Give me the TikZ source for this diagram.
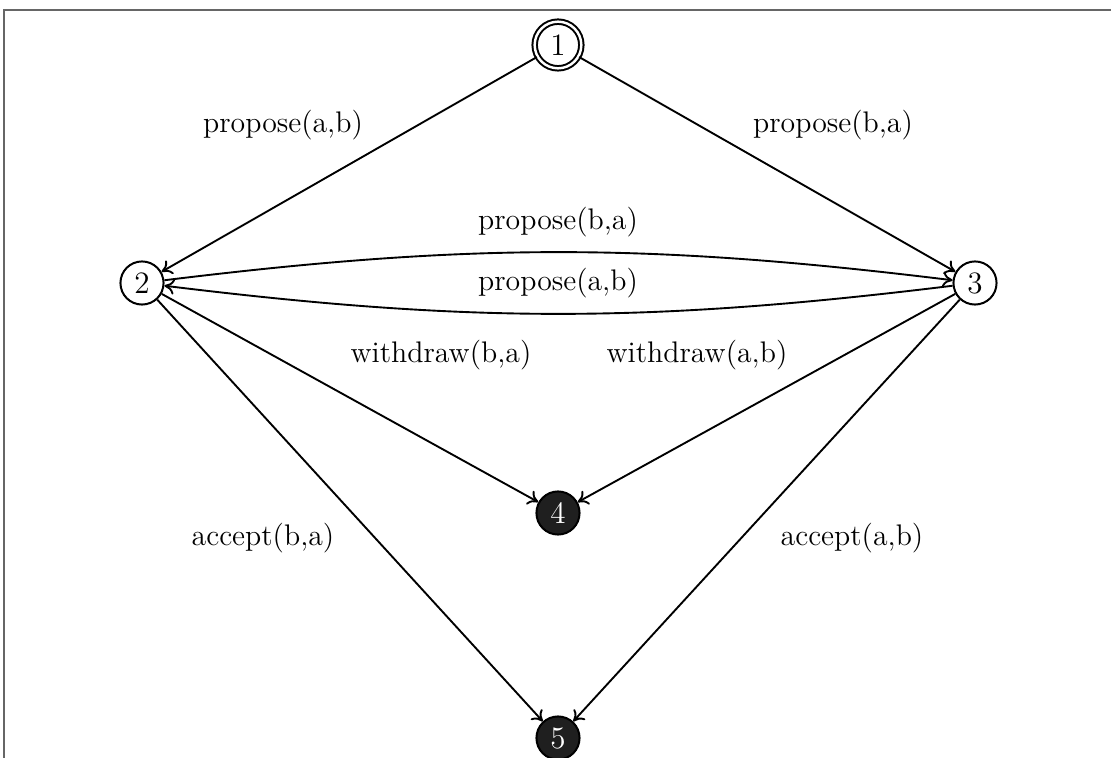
\documentclass[tikz,border=0pt]{standalone}
\usetikzlibrary{arrows.meta}
\begin{document}
\begin{tikzpicture}[x=0.45pt,y=-0.45pt,
  state/.style={circle,draw,line width=0.9pt,minimum size=19.4pt,inner sep=0pt,font=\fontsize{14}{16}\selectfont},
  initstate/.style={state,double,double distance=1.1pt,minimum size=21pt},
  finalstate/.style={state,fill=black!88,text=white},
  edge/.style={->,line width=0.85pt,>={To[length=4.5pt,width=7pt]}},
  lbl/.style={font=\fontsize{13.4}{15}\selectfont}]
\useasboundingbox (0,0) rectangle (1111,758);
\draw[gray!80!black,line width=1.1pt] (4,758) -- (4,10) -- (1111,10);
\node[initstate] (n1) at (558,45) {1};
\node[state] (n2) at (142,283) {2};
\node[state] (n3) at (975,283) {3};
\node[finalstate] (n4) at (558,513) {4};
\node[finalstate] (n5) at (558,738) {5};
\draw[edge] (n1) -- (n2);
\draw[edge] (n1) -- (n3);
\draw[edge] (n2) to[bend left=7] (n3);
\draw[edge] (n3) to[bend left=7] (n2);
\draw[edge] (n2) -- (n4);
\draw[edge] (n3) -- (n4);
\draw[edge] (n2) -- (n5);
\draw[edge] (n3) -- (n5);
\node[lbl] (l1) at (283,125) {propose(a,b)};
\node[lbl] (l2) at (833,125) {propose(b,a)};
\node[lbl] (l3) at (558,222) {propose(b,a)};
\node[lbl] (l4) at (558,283) {propose(a,b)};
\node[lbl] (l5) at (441,355) {withdraw(b,a)};
\node[lbl] (l6) at (697,355) {withdraw(a,b)};
\node[lbl] (l7) at (263,538) {accept(b,a)};
\node[lbl] (l8) at (852,538) {accept(a,b)};
\end{tikzpicture}
\end{document}
